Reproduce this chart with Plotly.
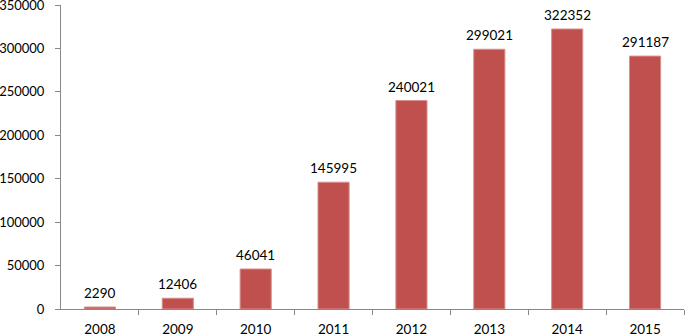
import plotly.graph_objects as go

years = ["2008", "2009", "2010", "2011", "2012", "2013", "2014", "2015"]
values = [2290, 12406, 46041, 145995, 240021, 299021, 322352, 291187]
y_ticks = [0, 50000, 100000, 150000, 200000, 250000, 300000, 350000]

font = dict(family="Lato, Carlito, sans-serif", size=13.5, color="#000000")
tick_font = dict(family="Lato, Carlito, sans-serif", size=13, color="#000000")

fig = go.Figure()
fig.add_trace(go.Bar(
    x=list(range(len(years))), y=values,
    width=0.4,
    marker=dict(color="#C0504D", line=dict(color="#D9908E", width=1)),
    hoverinfo="skip",
    cliponaxis=False,
))
for i, v in enumerate(values):
    fig.add_annotation(x=i, y=v, text=str(v), showarrow=False,
                       yanchor="bottom", yshift=4, font=font)

fig.update_layout(
    width=685, height=334,
    margin=dict(l=61, r=1, t=5, b=25, autoexpand=False),
    paper_bgcolor="white", plot_bgcolor="white",
    showlegend=False,
    font=font,
)
fig.update_xaxes(
    range=[-0.5, len(years) - 0.5],
    tickvals=list(range(len(years))), ticktext=years,
    showline=True, linecolor="#888888", linewidth=1,
    ticks="", showgrid=False, zeroline=False, tickfont=font,
    minor=dict(tickvals=[i + 0.5 for i in range(len(years))], ticks="outside",
               ticklen=5, tickcolor="#888888", showgrid=False),
    tickangle=0, automargin=False, ticklabelstandoff=8,
    ticklabeloverflow="allow",
)
fig.update_yaxes(
    range=[0, 350000], tickvals=y_ticks, ticktext=[str(t) for t in y_ticks],
    showline=True, linecolor="#888888", linewidth=1,
    ticks="outside", ticklen=5, tickcolor="#888888",
    showgrid=False, zeroline=False, tickfont=tick_font,
    ticklabelstandoff=8, automargin=False,
    ticklabeloverflow="allow",
)
fig.write_html("out.html", config={"displayModeBar": False},
               post_script="document.body.style.margin='0';")
